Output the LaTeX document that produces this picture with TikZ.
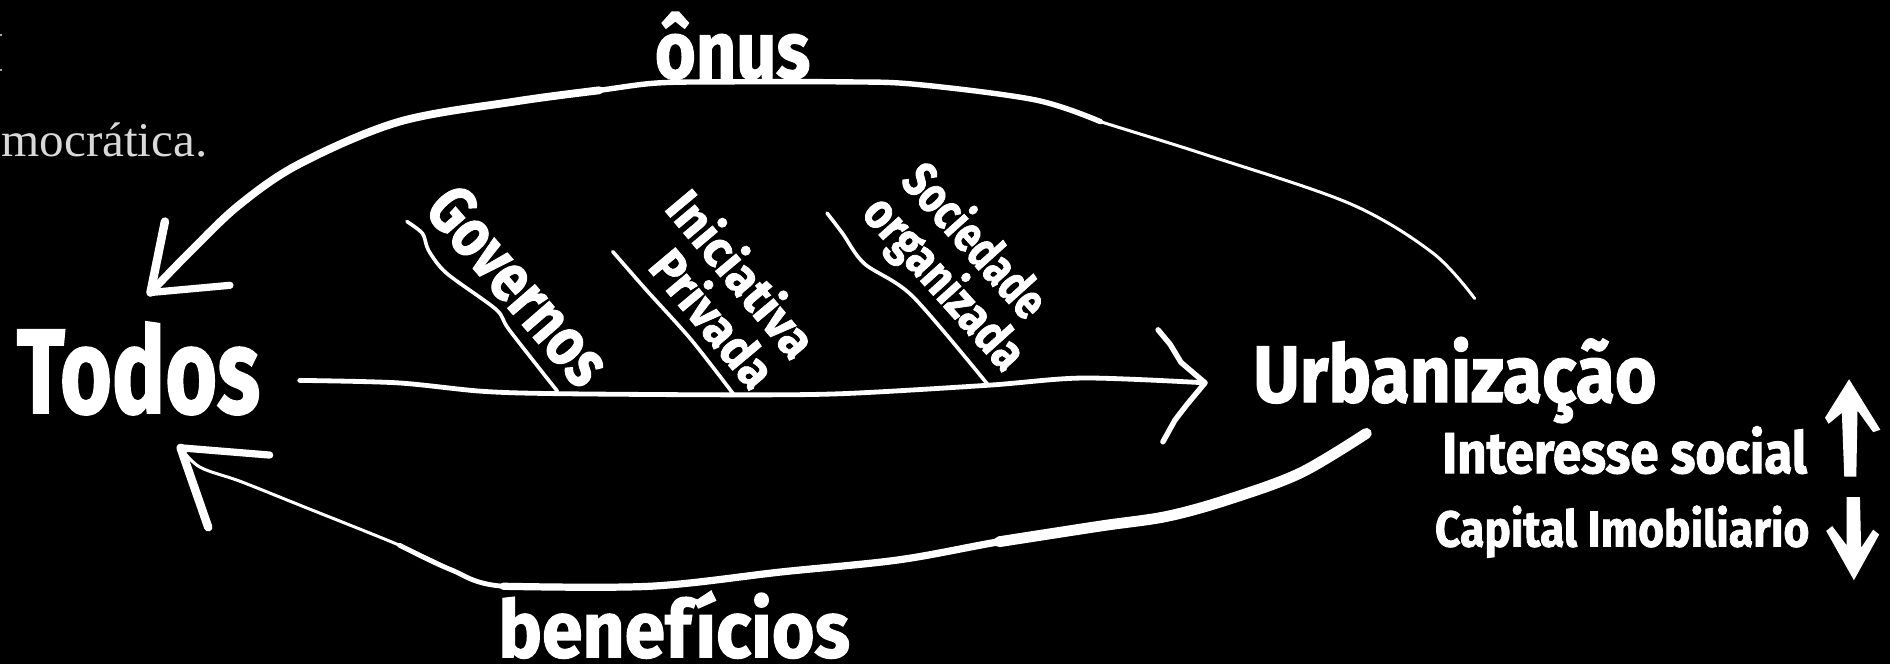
\documentclass[tikz,border=0pt]{standalone}
\usepackage{fontspec}
\setmainfont{Fira Sans}[BoldFeatures={FakeBold=1.6}]
\newfontfamily\grayserif{Liberation Serif}
\usepackage{graphicx}
\newcommand{\fittext}[3]{\resizebox{#1pt}{#2pt}{\bfseries #3}}
\begin{document}
\begin{tikzpicture}[x=1pt,y=-1pt,
  ink/.style={draw=white, line cap=round, line join=round},
  word/.style={text=white, inner sep=0pt, outer sep=0pt},
  slant/.style={word, align=center, font={\fontsize{10}{42}\selectfont}}]
\fill[black] (0,0) rectangle (1570,551.5);
\useasboundingbox (0,0) rectangle (1570,551.5);

% cut-off text at left
\fill[gray!70] (0,28.5) rectangle (1.6,30);
\fill[gray!70] (0,57.5) rectangle (1.6,59);
\node[text=black!15, inner sep=0pt, anchor=base east] (demo) at (172.5,130)
  {\resizebox{171pt}{28pt}{\grayserif mocrática.}};

% main words
\node[word, anchor=base west] (todos) at (14,343) {\fittext{202}{75.6}{Todos}};
\node[word, anchor=base west] (urb) at (1041,334) {\fittext{335}{54}{Urbanização}};
\node[word, anchor=base west] (onus) at (544,65) {\fittext{129}{55}{ônus}};
\node[word, anchor=base west] (benef) at (414,546) {\fittext{292}{55}{benefícios}};
\node[word, anchor=base west] (intsoc) at (1198,393) {\fittext{303}{39}{Interesse social}};
\node[word, anchor=base west] (capimo) at (1192,454) {\fittext{311}{34}{Capital Imobiliario}};

% slanted labels
\node[slant, rotate=-49] (gov) at (431,237) {\fittext{198}{40}{Governos}};
\node[slant, rotate=-50] (ini) at (601,240)
  {\fittext{166}{34}{Iniciativa}\\\hspace*{26pt}\fittext{135}{34}{Privada}};
\node[slant, rotate=-48] (soc) at (799,222)
  {\fittext{156}{34}{Sociedade}\hspace*{18pt}\\\fittext{178}{34}{organizada}};

% connector coordinates
\coordinate (topA) at (1225,248);
\coordinate (topTip) at (125,243);
\coordinate (botA) at (1135,360);
\coordinate (botTip) at (150,372);
\coordinate (mainS) at (249,316);
\coordinate (mainT) at (1001,318);
\coordinate (govTop) at (338,184);
\coordinate (govFoot) at (463,325);
\coordinate (iniTop) at (509,209);
\coordinate (iniFoot) at (609,327);
\coordinate (socTop) at (687,177);
\coordinate (socFoot) at (821,320);

% top arc (onus): Urbanizacao -> Todos
\draw[ink, line width=2.5pt] plot[smooth, tension=0.55] coordinates
  {(topA) (1190,210) (1121,169) (1000,128) (914,101) (860,83) (760,70)};
\draw[ink, line width=4.5pt] plot[smooth, tension=0.55] coordinates
  {(914,101) (860,83) (760,70) (700,68) (600,68) (545,69) (498,75) (430,84)};
\draw[ink, line width=6.5pt] plot[smooth, tension=0.55] coordinates
  {(498,75) (430,84) (332,101) (249,136) (199,170) (160,207) (topTip)};
\draw[ink, line width=7pt] (topTip) -- (137,184);
\draw[ink, line width=6pt] (topTip) -- (191,237);

% bottom arc (beneficios): Urbanizacao -> Todos
\draw[ink, line width=9pt] plot[smooth, tension=0.55] coordinates
  {(botA) (1080,393) (1020,415) (969,429) (914,437) (830,450)};
\draw[ink, line width=6pt] plot[smooth, tension=0.55] coordinates
  {(914,437) (830,450) (747,465) (650,475) (540,487) (418,487)};
\draw[ink, line width=4pt] plot[smooth, tension=0.55] coordinates
  {(540,487) (418,487) (374,473) (332,453)};
\draw[ink, line width=2.5pt] plot[smooth, tension=0.55] coordinates
  {(374,473) (332,453) (250,420) (200,400) (166,388) (botTip)};
\draw[ink, line width=6pt] (botTip) -- (224,378);
\draw[ink, line width=7pt] (botTip) -- (173,438);

% main arrow Todos -> Urbanizacao
\draw[ink, line width=4pt] plot[smooth, tension=0.5] coordinates
  {(mainS) (330,318) (400,325) (463,327) (609,328) (700,327) (821,320) (900,314) (mainT)};
\draw[ink, line width=4.5pt] (962,274) -- (972,286) -- (981,301) -- (mainT)
  -- (986,336) -- (976,349) -- (966,367);

% slanted stems
\draw[ink, line width=3pt] plot[smooth, tension=0.5] coordinates
  {(govTop) (351,194) (356,208) (371,227) (412,257) (423,274) (govFoot)};
\draw[ink, line width=3pt] plot[smooth, tension=0.5] coordinates
  {(iniTop) (537,241) (574,282) (iniFoot)};
\draw[ink, line width=3pt] plot[smooth, tension=0.5] coordinates
  {(socTop) (700,194) (718,219) (758,246) (socFoot)};

% up / down arrows
\fill[white] (1536,315) -- (1562,357) -- (1556,359) -- (1543,341) -- (1542,396)
  -- (1532,396) -- (1530,343) -- (1519,352) -- (1516,347) -- cycle;
\fill[white] (1534,413) -- (1545,413) -- (1546,455) -- (1556,440) -- (1561,444)
  -- (1540,482) -- (1517,441) -- (1522,437) -- (1534,453) -- cycle;
\end{tikzpicture}
\end{document}
